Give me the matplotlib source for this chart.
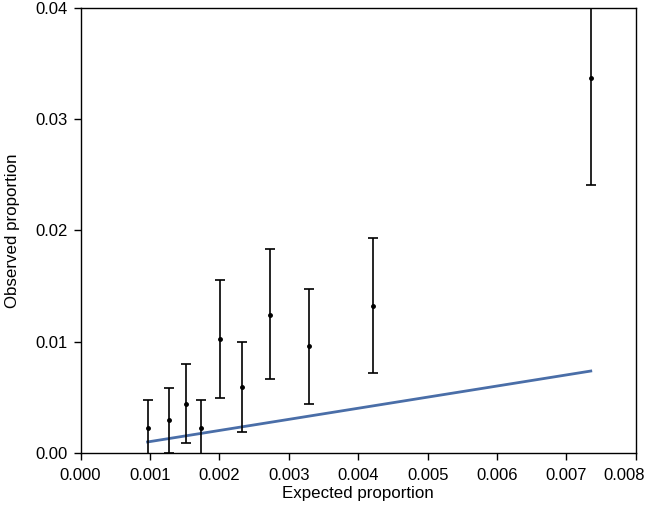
import numpy as np
import matplotlib
matplotlib.use("Agg")
import matplotlib.pyplot as plt
import matplotlib.transforms as mtransforms

plt.rcParams["font.family"] = ["Liberation Sans", "DejaVu Sans"]

# expected vs observed proportions with interval bounds
expected = [0.000965, 0.00128, 0.00152, 0.00174, 0.00201, 0.00233,
            0.00273, 0.00329, 0.00421, 0.00735]
observed = [0.0022, 0.00296, 0.00437, 0.00224, 0.01023, 0.00588,
            0.01243, 0.00962, 0.01319, 0.03373]
lower = [-0.0003, 0.0000, 0.0009, -0.0003, 0.00495, 0.00184,
         0.0066, 0.00441, 0.00715, 0.02413]
upper = [0.00477, 0.00582, 0.00794, 0.00477, 0.01557, 0.00995,
         0.01837, 0.01469, 0.01928, 0.0450]

x_ticks = [0.000, 0.001, 0.002, 0.003, 0.004, 0.005, 0.006, 0.007, 0.008]
y_ticks = [0.00, 0.01, 0.02, 0.03, 0.04]

expected = np.array(expected)
observed = np.array(observed)
yerr = np.vstack([observed - np.array(lower), np.array(upper) - observed])

fig = plt.figure(figsize=(6.5, 5.05), dpi=100)
ax = fig.add_axes([0.124, 0.1036, 0.8543, 0.88])

# reference line y = x over the range of expected values
ends = expected[[0, -1]]
ax.plot(ends, ends, color="#4a6ea8", linewidth=2.0, zorder=2)

ax.errorbar(expected, observed, yerr=yerr, fmt="o", color="black",
            markersize=2.5, elinewidth=1.2, capsize=3.5, capthick=1.2,
            zorder=3)

ax.set_xlim(0, 0.008)
ax.set_ylim(0, 0.04)
ax.set_xticks(x_ticks)
ax.set_xticklabels([f"{v:.3f}" for v in x_ticks])
ax.set_yticks(y_ticks)
ax.set_yticklabels([f"{v:.2f}" for v in y_ticks])
ax.tick_params(direction="out", length=5, width=1, labelsize=12, pad=4)
ax.tick_params(axis="x", pad=6)
for s in ax.spines.values():
    s.set_linewidth(1)

# last x label is pushed left so it stays inside the figure
last = ax.get_xticklabels()[-1]
last.set_transform(last.get_transform() +
                   mtransforms.ScaledTranslation(-0.12, 0, fig.dpi_scale_trans))

ax.set_xlabel("Expected proportion", fontsize=12.2, labelpad=2)
ax.set_ylabel("Observed proportion", fontsize=12.2, labelpad=11)

plt.savefig("out.png", dpi=100)
